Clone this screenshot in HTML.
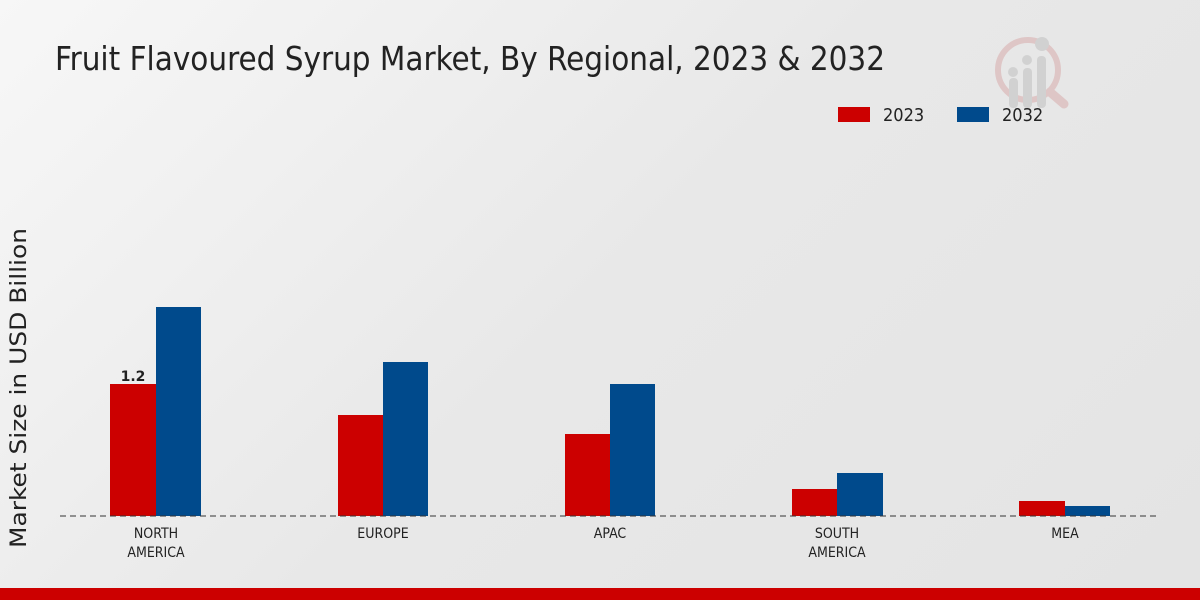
<!DOCTYPE html>
<html><head><style>
body{margin:0;width:1200px;height:600px;overflow:hidden;background:linear-gradient(135deg,#f7f7f7 0%,#e8e8e8 50%,#e4e4e4 100%);font-family:"DejaVu Sans",sans-serif;}
</style></head><body>
<svg width="1200" height="600" viewBox="0 0 1200 600" xmlns="http://www.w3.org/2000/svg" style="position:absolute;left:0;top:0" font-family="DejaVu Sans, sans-serif">
<text x="55" y="70" font-family="DejaVu Sans Condensed, DejaVu Sans, sans-serif" font-size="33" fill="#222" textLength="830" lengthAdjust="spacingAndGlyphs">Fruit Flavoured Syrup Market, By Regional, 2023 &amp; 2032</text>
<g opacity="0.35">
<circle cx="1028" cy="70" r="30" fill="none" stroke="#d08a8a" stroke-width="6"/>
<line x1="1050" y1="92" x2="1064" y2="104" stroke="#d08a8a" stroke-width="9" stroke-linecap="round"/>
<rect x="1009" y="78" width="9" height="30" rx="4" fill="#aaa"/>
<rect x="1023" y="68" width="9" height="40" rx="4" fill="#aaa"/>
<rect x="1037" y="56" width="9" height="52" rx="4" fill="#aaa"/>
<circle cx="1013" cy="72" r="5" fill="#aaa"/><circle cx="1027" cy="60" r="5" fill="#aaa"/><circle cx="1042" cy="44" r="7" fill="#aaa"/>
</g>
<rect x="838" y="107" width="32" height="15" fill="#cc0000"/>
<text x="883" y="121" font-size="18" fill="#222" font-family="DejaVu Sans Condensed, DejaVu Sans, sans-serif">2023</text>
<rect x="957" y="107" width="32" height="15" fill="#004a8c"/>
<text x="1002" y="121" font-size="18" fill="#222" font-family="DejaVu Sans Condensed, DejaVu Sans, sans-serif">2032</text>
<text transform="translate(26,388) rotate(-90)" text-anchor="middle" font-size="22" fill="#222" textLength="320" lengthAdjust="spacingAndGlyphs">Market Size in USD Billion</text>
<g fill="#cc0000">
<rect x="110" y="384" width="46" height="132"/>
<rect x="338" y="415" width="45" height="101"/>
<rect x="565" y="434" width="45" height="82"/>
<rect x="792" y="489" width="45" height="27"/>
<rect x="1019" y="501" width="46" height="15"/>
</g>
<g fill="#004a8c">
<rect x="156" y="307" width="45" height="209"/>
<rect x="383" y="362" width="45" height="154"/>
<rect x="610" y="384" width="45" height="132"/>
<rect x="837" y="473" width="46" height="43"/>
<rect x="1065" y="506" width="45" height="10"/>
</g>
<text x="133" y="381" text-anchor="middle" font-size="14" font-weight="bold" fill="#222">1.2</text>
<line x1="60" y1="516" x2="1160" y2="516" stroke="#333" stroke-width="1" stroke-dasharray="6,4"/>
<g font-size="14" fill="#222" text-anchor="middle" font-family="DejaVu Sans Condensed, DejaVu Sans, sans-serif">
<text x="156" y="538">NORTH</text><text x="156" y="557">AMERICA</text>
<text x="383" y="538">EUROPE</text>
<text x="610" y="538">APAC</text>
<text x="837" y="538">SOUTH</text><text x="837" y="557">AMERICA</text>
<text x="1065" y="538">MEA</text>
</g>
<rect x="0" y="588" width="1200" height="12" fill="#cc0000"/>
</svg>
</body></html>
